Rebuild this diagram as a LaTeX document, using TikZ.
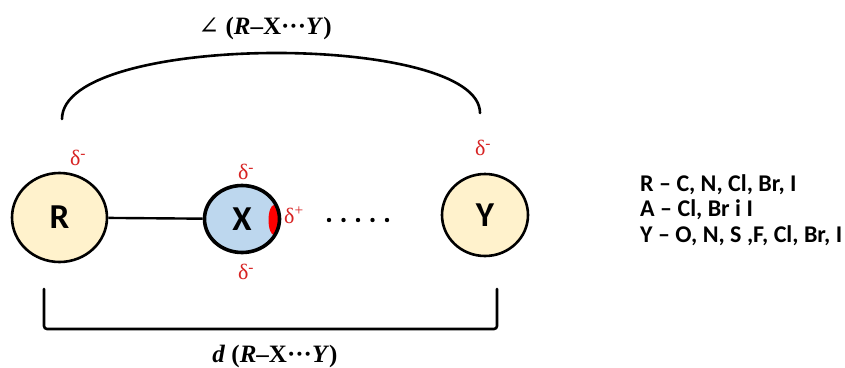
\documentclass[tikz,border=0pt]{standalone}
\usepackage{fontspec}
\setmainfont{Liberation Serif}
\newfontfamily\calib{Carlito}
\newfontfamily\dvs{DejaVu Serif}
\usetikzlibrary{shapes.geometric}
\definecolor{peach}{RGB}{255,242,204}
\definecolor{lblue}{RGB}{189,215,238}
\definecolor{dred}{RGB}{215,35,35}
\tikzset{
  atom/.style={ellipse, draw=black, line width=2.6pt, inner sep=0pt, font=\calib\bfseries\fontsize{35}{40}\selectfont},
  dlabel/.style={text=dred, inner sep=0pt, font=\fontsize{22}{26}\selectfont},
  thick line/.style={line width=2.6pt, line cap=round},
  title/.style={inner sep=0pt, font=\bfseries\fontsize{25}{30}\selectfont}
}
\begin{document}
\begin{tikzpicture}[x=1pt,y=-1pt]
\useasboundingbox (0,0) rectangle (845,367);
% atoms
\node[atom, fill=peach, minimum width=95pt, minimum height=89pt] (R) at (59.5,217.5) {R};
\node[atom, fill=lblue, minimum width=76pt, minimum height=68pt] (X) at (242,219) {X};
\node[atom, fill=peach, minimum width=86pt, minimum height=82pt] (Y) at (485,215) {Y};
\draw[line width=2.4pt] (R) -- (X);
% red sigma hole
\begin{scope}
\clip (242,219) ellipse [x radius=37pt, y radius=33pt];
\fill[red] (274,220) ellipse [x radius=5.5pt, y radius=15pt];
\end{scope}
\draw[line width=2.6pt] (242,219) ellipse [x radius=37pt, y radius=33pt];
% charges
\node[dlabel] (dR) at (78,158) {δ\textsuperscript{-}};
\node[dlabel] (dXt) at (246,172) {δ\textsuperscript{-}};
\node[dlabel] (dXb) at (246,272) {δ\textsuperscript{-}};
\node[dlabel] (dXp) at (294,215) {δ\textsuperscript{+}};
\node[dlabel] (dY) at (483,148) {δ\textsuperscript{-}};
% dots
\foreach \i in {0,...,4} \fill (329+14.5*\i,220) circle (2.2pt);
% angle arc
\coordinate (a1) at (62,119);
\coordinate (a2) at (480,113);
\draw[thick line] (a1) .. controls (62,32) and (480,32) .. (a2);
\node[title] (ang) at (265,28) {{\dvs\mdseries ∠} (\textit{R}–X···\textit{Y})};
% distance bracket
\coordinate (b1) at (44,289);
\coordinate (b2) at (497,289);
\draw[thick line, rounded corners=3pt] (b1) -- (44,329) -- (497,329) -- (b2);
\node[title] (dist) at (275,356) {\textit{d} (\textit{R}–X···\textit{Y})};
% legend
\node[anchor=west, align=left, inner sep=0pt, font=\calib\bfseries\fontsize{24}{25.5}\selectfont] (leg) at (640,210)
  {R – C, N, Cl, Br, I\\A – Cl, Br i I\\Y – O, N, S ,F, Cl, Br, I};
\end{tikzpicture}
\end{document}
